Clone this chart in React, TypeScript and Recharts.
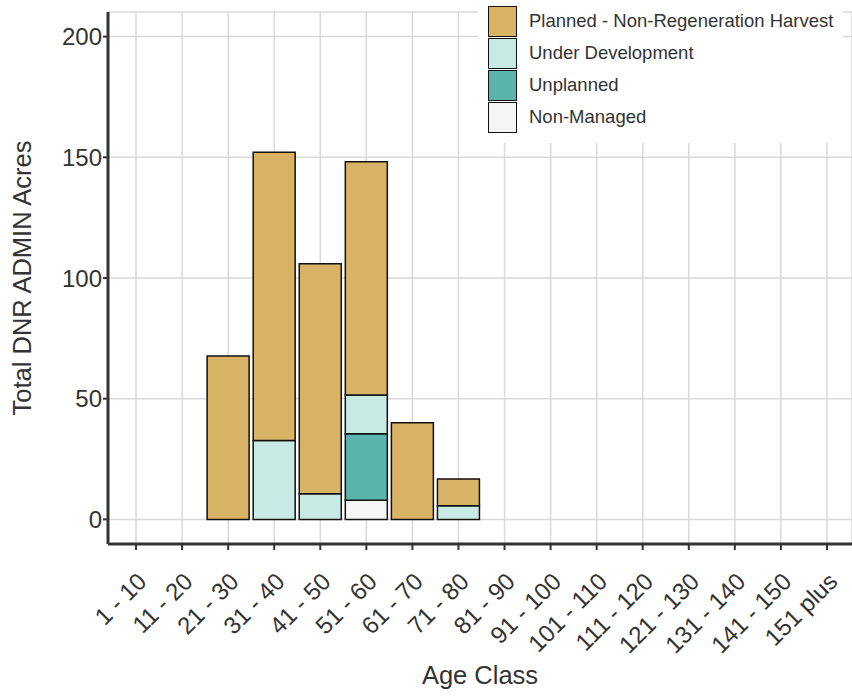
import { BarChart, Bar, XAxis, YAxis, CartesianGrid, Legend, Label } from "recharts"

const ageClasses = [
    "1 - 10", "11 - 20", "21 - 30", "31 - 40", "41 - 50", "51 - 60", "61 - 70", "71 - 80",
    "81 - 90", "91 - 100", "101 - 110", "111 - 120", "121 - 130", "131 - 140", "141 - 150", "151 plus",
]
const nonManaged = [null, null, null, null, null, 7.9, null, null, null, null, null, null, null, null, null, null]
const unplanned = [null, null, null, null, null, 27.6, null, null, null, null, null, null, null, null, null, null]
const underDevelopment = [null, null, null, 32.7, 10.6, 16, null, 5.6, null, null, null, null, null, null, null, null]
const plannedNonRegen = [null, null, 67.7, 119.4, 95.3, 96.7, 40, 11.1, null, null, null, null, null, null, null, null]
const yTicks = [0, 50, 100, 150, 200]

const series = [
    { key: "planned", name: "Planned - Non-Regeneration Harvest", color: "#D8B365" },
    { key: "underDev", name: "Under Development", color: "#C7EAE5" },
    { key: "unplanned", name: "Unplanned", color: "#5AB4AC" },
    { key: "nonManaged", name: "Non-Managed", color: "#F5F5F5" },
]

const rows = ageClasses.map((age, i) => ({
    age,
    nonManaged: nonManaged[i],
    unplanned: unplanned[i],
    underDev: underDevelopment[i],
    planned: plannedNonRegen[i],
}))

const FONT = "'Liberation Sans', Arial, sans-serif"

const XTick = ({ x, y, payload }: any) => (
    <text
        x={x + 12}
        y={y + 31}
        textAnchor="end"
        fontSize={24}
        fill="#333"
        fontFamily={FONT}
        transform={`rotate(-45, ${x + 12}, ${y + 31})`}
    >
        {payload.value}
    </text>
)

const LegendBox = () => (
    <div style={{ background: "#fff", padding: "5px 10px 10px 10px", fontFamily: FONT }}>
        {series.map(s => (
            <div key={s.key} style={{ display: "flex", alignItems: "center", height: 32 }}>
                <div style={{ width: 27, height: 29, background: s.color, border: "1.5px solid #111" }} />
                <span style={{ marginLeft: 12, fontSize: 18.5, color: "#333", whiteSpace: "nowrap" }}>{s.name}</span>
            </div>
        ))}
    </div>
)

const App = () => {
    return (
        <div style={{ position: "absolute", left: 0, top: 0, width: 852, height: 697, background: "#fff" }}>
            <BarChart
                width={852}
                height={697}
                data={rows}
                margin={{ top: 12, right: 0, bottom: 0, left: 0 }}
                barSize={42}
            >
                <CartesianGrid stroke="#d9d9d9" strokeWidth={1.5} />
                <XAxis
                    dataKey="age"
                    height={153}
                    padding={{ left: 5, right: 2 }}
                    tick={<XTick />}
                    interval={0}
                    tickSize={6}
                    axisLine={{ stroke: "#333", strokeWidth: 3 }}
                    tickLine={{ stroke: "#333", strokeWidth: 2 }}
                >
                    <Label value="Age Class" position="insideBottom" offset={13} fontSize={25.5} fill="#333" fontFamily={FONT} />
                </XAxis>
                <YAxis
                    width={108}
                    domain={[-10.2, 210.2]}
                    ticks={yTicks}
                    allowDataOverflow
                    tickSize={5}
                    tickMargin={1}
                    tick={{ fontSize: 24, fill: "#333", fontFamily: FONT }}
                    axisLine={{ stroke: "#333", strokeWidth: 3 }}
                    tickLine={{ stroke: "#333", strokeWidth: 2 }}
                >
                    <Label
                        value="Total DNR ADMIN Acres"
                        angle={-90}
                        position="insideLeft"
                        offset={22}
                        fontSize={25.5}
                        fill="#333"
                        fontFamily={FONT}
                        style={{ textAnchor: "middle" }}
                    />
                </YAxis>
                <Legend
                    layout="horizontal"
                    verticalAlign="middle"
                    align="center"
                    content={<LegendBox />}
                    wrapperStyle={{ position: "absolute", top: 0, left: 478, width: "auto" }}
                />
                <Bar dataKey="nonManaged" name="Non-Managed" stackId="a" fill="#F5F5F5" stroke="#111" strokeWidth={1.5} isAnimationActive={false} />
                <Bar dataKey="unplanned" name="Unplanned" stackId="a" fill="#5AB4AC" stroke="#111" strokeWidth={1.5} isAnimationActive={false} />
                <Bar dataKey="underDev" name="Under Development" stackId="a" fill="#C7EAE5" stroke="#111" strokeWidth={1.5} isAnimationActive={false} />
                <Bar dataKey="planned" name="Planned - Non-Regeneration Harvest" stackId="a" fill="#D8B365" stroke="#111" strokeWidth={1.5} isAnimationActive={false} />
            </BarChart>
        </div>
    )
}

export default App
